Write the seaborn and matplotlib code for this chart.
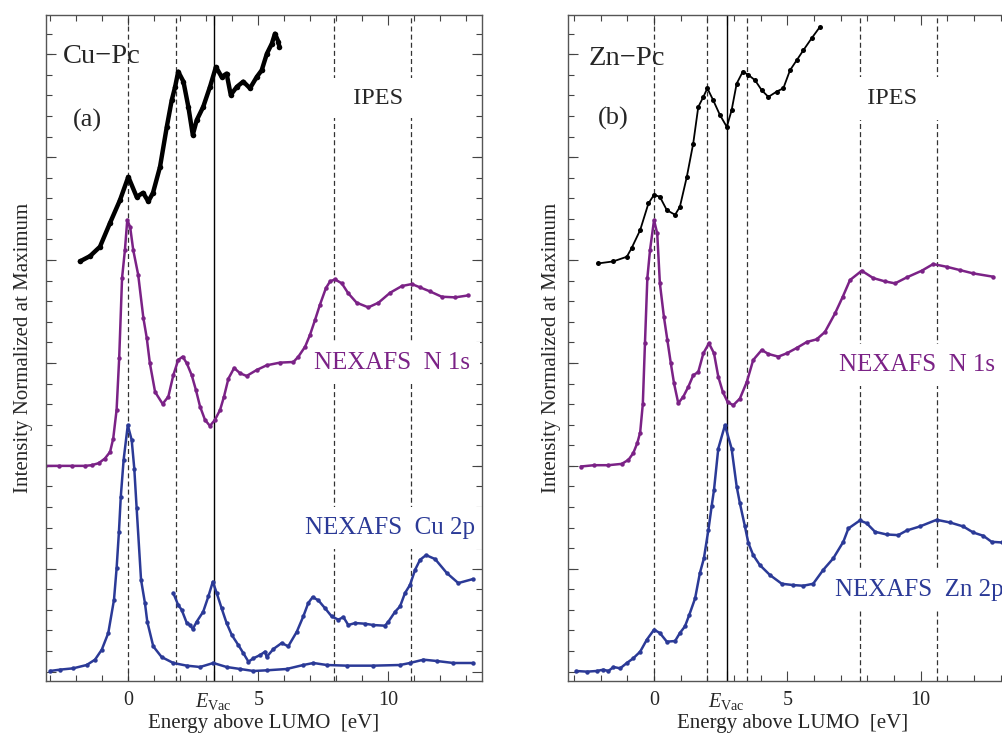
import numpy as np
import pandas as pd
import matplotlib
matplotlib.use("Agg")
import matplotlib.pyplot as plt
import seaborn as sns
from matplotlib.ticker import MultipleLocator

# ---------------- data (energy above LUMO [eV], normalized intensity with offsets) ----------------
# Cu-Pc
cu_ipes_x = [-1.86, -1.47, -1.09, -0.70, -0.32, 0.00, 0.32, 0.57, 0.77, 0.95, 1.22, 1.48, 1.67, 1.80,
             1.92, 2.12, 2.31, 2.48, 2.63, 2.88, 3.14, 3.37, 3.59, 3.78, 3.94, 4.17, 4.42, 4.68, 4.94,
             5.13, 5.33, 5.52, 5.64, 5.77, 5.81]
cu_ipes_y = [0.630, 0.638, 0.652, 0.688, 0.722, 0.757, 0.727, 0.733, 0.720, 0.733, 0.772, 0.832, 0.872,
             0.892, 0.915, 0.900, 0.862, 0.820, 0.842, 0.862, 0.892, 0.922, 0.907, 0.912, 0.880, 0.892,
             0.900, 0.890, 0.907, 0.917, 0.942, 0.957, 0.972, 0.960, 0.952]

cu_n1s_x = [-3.20, -2.68, -2.18, -1.67, -1.41, -1.14, -0.90, -0.70, -0.58, -0.45, -0.35, -0.24, -0.13,
            -0.04, 0.07, 0.19, 0.38, 0.58, 0.71, 0.83, 1.03, 1.32, 1.54, 1.73, 1.92, 2.09, 2.25, 2.44,
            2.60, 2.76, 2.95, 3.14, 3.33, 3.53, 3.68, 3.85, 4.07, 4.30, 4.55, 4.94, 5.32, 5.83, 6.35,
            6.54, 6.80, 6.99, 7.18, 7.37, 7.60, 7.76, 7.95, 8.21, 8.46, 8.78, 9.23, 9.62, 10.07, 10.52,
            10.90, 11.22, 11.60, 12.05, 12.57, 13.08]
cu_n1s_y = [0.323, 0.323, 0.323, 0.323, 0.324, 0.327, 0.334, 0.344, 0.364, 0.407, 0.485, 0.605, 0.647,
            0.692, 0.682, 0.647, 0.610, 0.545, 0.515, 0.477, 0.434, 0.416, 0.427, 0.459, 0.482, 0.487,
            0.477, 0.459, 0.437, 0.412, 0.392, 0.383, 0.392, 0.407, 0.427, 0.454, 0.470, 0.462, 0.458,
            0.467, 0.474, 0.478, 0.479, 0.487, 0.502, 0.520, 0.542, 0.565, 0.590, 0.600, 0.603, 0.597,
            0.582, 0.568, 0.561, 0.568, 0.583, 0.593, 0.596, 0.591, 0.585, 0.577, 0.576, 0.579]

cu_2p_x = [-3.01, -2.63, -2.12, -1.60, -1.28, -1.02, -0.77, -0.55, -0.45, -0.36, -0.29, -0.18, -0.02,
           0.13, 0.23, 0.32, 0.49, 0.64, 0.73, 0.96, 1.28, 1.73, 2.25, 2.76, 3.27, 3.78, 4.30, 4.81,
           5.32, 6.09, 6.73, 7.12, 7.63, 8.40, 9.42, 10.45, 10.83, 11.35, 11.86, 12.50, 13.27]
cu_2p_y = [0.015, 0.017, 0.019, 0.024, 0.032, 0.047, 0.072, 0.122, 0.169, 0.224, 0.276, 0.332, 0.384,
           0.362, 0.319, 0.260, 0.152, 0.117, 0.089, 0.052, 0.036, 0.027, 0.023, 0.021, 0.027, 0.021,
           0.018, 0.015, 0.016, 0.018, 0.024, 0.027, 0.024, 0.023, 0.023, 0.024, 0.027, 0.032, 0.030,
           0.027, 0.027]

cu_2p_zoom_x = [1.73, 1.92, 2.05, 2.25, 2.37, 2.48, 2.63, 2.88, 3.08, 3.25, 3.40, 3.59, 3.78, 3.98,
                4.23, 4.42, 4.62, 4.81, 5.07, 5.26, 5.32, 5.58, 5.90, 6.15, 6.48, 6.73, 6.92, 7.09,
                7.31, 7.57, 7.82, 8.08, 8.27, 8.46, 8.72, 9.10, 9.42, 9.87, 10.00, 10.26, 10.45, 10.64,
                10.83, 11.03, 11.22, 11.45, 11.80, 12.25, 12.69, 13.25]
cu_2p_zoom_y = [0.132, 0.114, 0.107, 0.087, 0.084, 0.078, 0.089, 0.104, 0.127, 0.149, 0.132, 0.109,
                0.087, 0.069, 0.054, 0.042, 0.029, 0.034, 0.039, 0.044, 0.036, 0.048, 0.057, 0.052,
                0.074, 0.097, 0.117, 0.126, 0.121, 0.109, 0.097, 0.092, 0.096, 0.084, 0.087, 0.086,
                0.084, 0.083, 0.089, 0.104, 0.112, 0.132, 0.144, 0.167, 0.182, 0.189, 0.183, 0.162,
                0.147, 0.153]

# Zn-Pc
zn_ipes_x = [-2.09, -1.53, -1.02, -0.84, -0.52, -0.21, 0.00, 0.22, 0.48, 0.79, 0.97, 1.23, 1.47, 1.66,
             1.85, 2.00, 2.22, 2.47, 2.73, 2.91, 3.10, 3.33, 3.54, 3.79, 4.04, 4.29, 4.60, 4.85, 5.10,
             5.35, 5.60, 5.91, 6.22]
zn_ipes_y = [0.627, 0.630, 0.637, 0.650, 0.677, 0.717, 0.730, 0.727, 0.707, 0.700, 0.712, 0.757, 0.807,
             0.862, 0.877, 0.890, 0.872, 0.850, 0.832, 0.857, 0.897, 0.915, 0.910, 0.902, 0.887, 0.877,
             0.885, 0.890, 0.917, 0.932, 0.947, 0.965, 0.982]

zn_n1s_x = [-2.75, -2.25, -1.71, -1.21, -0.96, -0.78, -0.63, -0.52, -0.42, -0.34, -0.25, -0.15, 0.00,
            0.12, 0.22, 0.37, 0.50, 0.63, 0.75, 0.91, 1.10, 1.29, 1.47, 1.66, 1.85, 2.06, 2.25, 2.41,
            2.58, 2.76, 2.97, 3.22, 3.48, 3.72, 4.04, 4.29, 4.66, 4.98, 5.35, 5.73, 6.10, 6.41, 6.79,
            7.08, 7.35, 7.79, 8.22, 8.66, 9.04, 9.48, 10.04, 10.47, 10.97, 11.47, 11.97, 12.72]
zn_n1s_y = [0.322, 0.324, 0.324, 0.326, 0.332, 0.342, 0.357, 0.373, 0.416, 0.507, 0.605, 0.647, 0.692,
            0.672, 0.597, 0.547, 0.512, 0.477, 0.447, 0.417, 0.427, 0.442, 0.459, 0.464, 0.492, 0.507,
            0.492, 0.457, 0.434, 0.419, 0.414, 0.424, 0.449, 0.482, 0.497, 0.491, 0.487, 0.492, 0.500,
            0.509, 0.513, 0.524, 0.552, 0.577, 0.602, 0.616, 0.605, 0.600, 0.597, 0.606, 0.616, 0.626,
            0.622, 0.617, 0.612, 0.607]

zn_2p_x = [-2.92, -2.52, -2.15, -1.90, -1.71, -1.52, -1.27, -1.02, -0.78, -0.52, -0.27, 0.00, 0.22,
           0.48, 0.79, 0.97, 1.16, 1.32, 1.54, 1.72, 1.87, 2.04, 2.16, 2.25, 2.41, 2.66, 2.91, 3.10,
           3.22, 3.41, 3.54, 3.72, 3.97, 4.35, 4.79, 5.22, 5.60, 5.97, 6.35, 6.72, 7.10, 7.29, 7.72,
           7.97, 8.29, 8.72, 9.16, 9.48, 9.97, 10.60, 11.10, 11.60, 11.97, 12.35, 12.66, 13.04]
zn_2p_y = [0.015, 0.014, 0.015, 0.017, 0.015, 0.021, 0.019, 0.027, 0.034, 0.044, 0.062, 0.077, 0.072,
           0.059, 0.060, 0.072, 0.082, 0.099, 0.124, 0.162, 0.184, 0.227, 0.262, 0.287, 0.349, 0.384,
           0.349, 0.292, 0.267, 0.232, 0.207, 0.189, 0.174, 0.159, 0.146, 0.144, 0.143, 0.146, 0.167,
           0.184, 0.209, 0.229, 0.241, 0.237, 0.224, 0.220, 0.219, 0.226, 0.232, 0.242, 0.238, 0.232,
           0.223, 0.218, 0.209, 0.208]

# reference energies (vertical lines)
cu_dashed = [0.0, 1.83, 7.92, 10.86]
cu_evac = 3.28
zn_dashed = [0.0, 1.99, 3.47, 7.74, 10.61]
zn_evac = 2.73

purple = "#7B2286"
blue = "#2B3A97"

sns.set_style("ticks")
plt.rcParams["font.family"] = ["Liberation Serif", "DejaVu Serif"]
plt.rcParams["mathtext.fontset"] = "custom"
plt.rcParams["mathtext.rm"] = "Liberation Serif"
plt.rcParams["mathtext.it"] = "Liberation Serif:italic"

fig = plt.figure(figsize=(10.02, 7.35), dpi=100)
ax1 = fig.add_axes([0.0459, 0.0735, 0.4351, 0.9061])
ax2 = fig.add_axes([0.5669, 0.0735, 0.4477, 0.9061])


def draw_curve(ax, x, y, color, lw=1.8, ms=3.2):
    df = pd.DataFrame({"E": x, "I": y})
    sns.lineplot(data=df, x="E", y="I", ax=ax, color=color, lw=lw, marker="o",
                 markersize=ms, markeredgewidth=0, sort=False, zorder=4)


def style_axes(ax, dashed, evac, xlim, ylab_x):
    for xv in dashed:
        ax.axvline(xv, color="#333333", lw=0.9, ls=(0, (4, 2.5)), zorder=1)
    ax.axvline(evac, color="black", lw=1.0, zorder=1)
    ax.set_xlim(*xlim)
    ax.set_ylim(0, 1)
    ax.set_xticks([0, evac, 5, 10])
    ax.set_xticklabels(["0", r"$E_{\mathrm{Vac}}$", "5", "10"], fontsize=14.5)
    ax.xaxis.set_minor_locator(MultipleLocator(1))
    ax.yaxis.set_major_locator(MultipleLocator(0.1546, offset=0.014))
    ax.yaxis.set_minor_locator(MultipleLocator(0.0309, offset=0.014))
    ax.tick_params(which="both", direction="in", top=True, right=True, labelleft=False,
                   color="#444444", width=0.8)
    ax.tick_params(which="major", length=7, pad=7)
    ax.tick_params(which="minor", length=4)
    for s in ax.spines.values():
        s.set_color("#555555")
        s.set_linewidth(1.0)
        s.set_zorder(5)
    ax.set_xlabel("Energy above LUMO  [eV]", fontsize=15, labelpad=2)
    ax.set_ylabel("Intensity Normalized at Maximum", fontsize=15)
    ax.yaxis.set_label_coords(ylab_x, 0.5)


box = dict(boxstyle="square,pad=0.4", fc="white", ec="none")
box2 = dict(boxstyle="square,pad=0.45", fc="white", ec="none")

# ---- (a) Cu-Pc ----
style_axes(ax1, cu_dashed, cu_evac, (-3.165, 13.6), -0.030)
draw_curve(ax1, cu_ipes_x, cu_ipes_y, "black", lw=3.2, ms=4)
draw_curve(ax1, cu_n1s_x, cu_n1s_y, purple)
draw_curve(ax1, cu_2p_x, cu_2p_y, blue)
draw_curve(ax1, cu_2p_zoom_x, cu_2p_zoom_y, blue)

ax1.text(0.128, 0.937, "Cu\u2212Pc", transform=ax1.transAxes, ha="center", va="center", fontsize=20.5)
ax1.text(0.096, 0.842, "(a)", transform=ax1.transAxes, ha="center", va="center", fontsize=19)
ax1.text(0.761, 0.875, "  IPES  ", transform=ax1.transAxes, ha="center", va="center",
         fontsize=17.5, bbox=box, zorder=2)
ax1.text(0.972, 0.477, "NEXAFS  N 1s", transform=ax1.transAxes, ha="right", va="center",
         fontsize=18, color=purple, bbox=box, zorder=2)
ax1.text(0.984, 0.230, "NEXAFS  Cu 2p", transform=ax1.transAxes, ha="right", va="center",
         fontsize=18, color=blue, bbox=box, zorder=2)

# ---- (b) Zn-Pc ----
style_axes(ax2, zn_dashed, zn_evac, (-3.225, 13.6), -0.0156)
draw_curve(ax2, zn_ipes_x, zn_ipes_y, "black", lw=1.3, ms=3.6)
draw_curve(ax2, zn_n1s_x, zn_n1s_y, purple)
draw_curve(ax2, zn_2p_x, zn_2p_y, blue)

ax2.text(0.131, 0.935, "Zn\u2212Pc", transform=ax2.transAxes, ha="center", va="center", fontsize=20.5)
ax2.text(0.100, 0.845, "(b)", transform=ax2.transAxes, ha="center", va="center", fontsize=19)
ax2.text(0.722, 0.875, "  IPES  ", transform=ax2.transAxes, ha="center", va="center",
         fontsize=17.5, bbox=box2, zorder=2)
ax2.text(0.952, 0.474, "NEXAFS  N 1s", transform=ax2.transAxes, ha="right", va="center",
         fontsize=18, color=purple, bbox=box, zorder=2)
ax2.text(0.595, 0.137, "NEXAFS  Zn 2p", transform=ax2.transAxes, ha="left", va="center",
         fontsize=18, color=blue, bbox=box, zorder=2)

fig.savefig("out.png", dpi=100)
